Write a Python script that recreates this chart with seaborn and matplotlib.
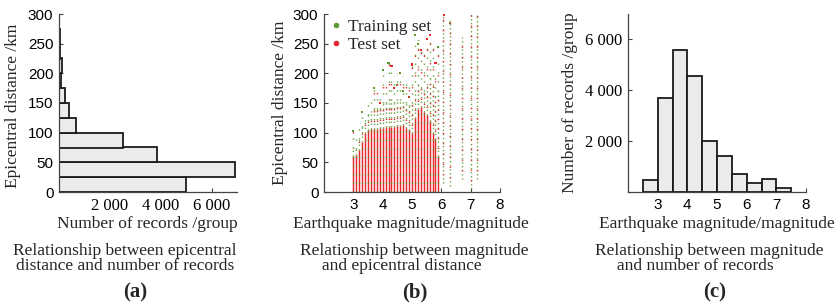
import numpy as np
import pandas as pd
import seaborn as sns
import matplotlib.pyplot as plt
from matplotlib.lines import Line2D

# (a) records per epicentral-distance group (25 km bins)
dist_edges = [0, 25, 50, 75, 100, 125, 150, 175, 200, 225, 250, 275, 300]
dist_counts = [5000, 6930, 3870, 2510, 680, 380, 220, 90, 110, 45, 25, 15]
dist_xticks = [2000, 4000, 6000]
dist_xticklabels = ['2 000', '4 000', '6 000']
dist_yticks = [0, 50, 100, 150, 200, 250, 300]

# (c) records per magnitude group (0.5 bins)
mag_edges = [2.5, 3.0, 3.5, 4.0, 4.5, 5.0, 5.5, 6.0, 6.5, 7.0, 7.5]
mag_counts = [470, 3710, 5600, 4550, 2000, 1410, 706, 365, 500, 145]
mag_yticks = [2000, 4000, 6000]
mag_yticklabels = ['2 000', '4 000', '6 000']
mag_xticks = [3, 4, 5, 6, 7, 8]

# (b) magnitude vs distance: dense columns
col_mag = [3.0, 3.1, 3.2, 3.3, 3.4, 3.5, 3.6, 3.7, 3.8, 3.9,
           4.0, 4.1, 4.2, 4.3, 4.4, 4.5, 4.6, 4.7, 4.8, 4.9,
           5.0, 5.1, 5.2, 5.3, 5.4, 5.5, 5.6, 5.7, 5.8, 5.9]
col_core = [60, 62, 70, 85, 100, 104, 106, 106, 107, 108,
            108, 109, 110, 110, 109, 112, 112, 113, 108, 105,
            100, 125, 140, 143, 135, 130, 120, 100, 90, 60]
col_mid = [75, 72, 90, 110, 120, 130, 135, 140, 140, 140,
           150, 150, 155, 155, 150, 155, 155, 150, 150, 145,
           150, 170, 180, 175, 170, 180, 190, 180, 160, 170]
col_top = [103, 95, 112, 135, 130, 150, 155, 175, 168, 165,
           205, 180, 218, 212, 195, 200, 200, 195, 190, 185,
           215, 250, 268, 240, 232, 245, 262, 245, 205, 242]
# sparse columns of the large events
far_mag = [6.05, 6.3, 6.7, 7.0, 7.2]
far_lo = [15, 10, 22, 5, 22]
far_hi = [300, 290, 262, 300, 300]
# scattered single records
pt_mag = [3.0, 3.3, 3.7, 4.0, 4.2, 4.3, 4.4, 4.6, 4.7, 5.0, 5.1, 5.2,
          5.3, 5.5, 5.6, 5.8, 5.9, 6.3, 6.1, 4.9, 4.5, 3.9]
pt_dist = [103, 135, 175, 205, 218, 212, 175, 200, 170, 215, 265, 250,
           240, 258, 265, 218, 245, 285, 298, 160, 180, 150]
pt_set = ['Training set', 'Training set', 'Training set', 'Training set',
          'Training set', 'Test set', 'Test set', 'Training set',
          'Training set', 'Test set', 'Training set', 'Training set',
          'Test set', 'Test set', 'Test set', 'Test set', 'Training set',
          'Training set', 'Test set', 'Test set', 'Training set', 'Test set']

green = '#5f9a30'
red = '#e8262e'
bar_fill = '#ebebeb'
edge = '#1a1a1a'

sns.set_theme(style='ticks')
plt.rcParams['font.family'] = ['Liberation Serif', 'DejaVu Serif']
plt.rcParams['lines.scale_dashes'] = False

W, H = 839, 304
fig = plt.figure(figsize=(W / 100, H / 100), dpi=100)


def box(x0, x1, y0, y1):
    return [x0 / W, 1 - y1 / H, (x1 - x0) / W, (y1 - y0) / H]


ax_a = fig.add_axes(box(59, 237, 14, 192))
ax_b = fig.add_axes(box(324, 500, 14, 192))
ax_c = fig.add_axes(box(628, 806, 14, 192))

sans = 'Liberation Sans'
serif = 'Liberation Serif'

# ---- (a)
dist_centers = (np.array(dist_edges[:-1]) + np.array(dist_edges[1:])) / 2
sns.histplot(y=dist_centers, weights=dist_counts, bins=dist_edges, ax=ax_a,
             color=bar_fill, edgecolor=edge, linewidth=1.3, alpha=1)
ax_a.set_xlim(0, 7000)
ax_a.set_ylim(0, 300)
ax_a.set_xticks(dist_xticks)
ax_a.set_xticklabels(dist_xticklabels, fontfamily=serif, fontsize=12)
ax_a.set_yticks(dist_yticks)
ax_a.set_yticklabels([str(v) for v in dist_yticks], fontfamily=sans, fontsize=11)

# ---- (b)
ax_b.vlines(col_mag, 0, col_core, color=red, linewidth=1.05)
ax_b.vlines(col_mag, 0, col_core, color=green, linewidth=1.05,
            linestyles=[(0, (0.7, 5.5))])
ax_b.vlines(col_mag, col_core, col_mid, color=green, linewidth=1.0,
            linestyles=[(0, (0.9, 2.4))])
ax_b.vlines(col_mag, col_core, col_mid, color=red, linewidth=1.0,
            linestyles=[(1.5, (0.9, 6))])
ax_b.vlines(col_mag, col_mid, col_top, color=green, linewidth=1.0,
            linestyles=[(0, (0.9, 5.5))])
ax_b.vlines(col_mag, col_mid, col_top, color=red, linewidth=1.0,
            linestyles=[(3, (0.9, 13))])
ax_b.vlines(far_mag, far_lo, far_hi, color=green, linewidth=1.0,
            linestyles=[(0, (0.9, 2.0))])
ax_b.vlines(far_mag, far_lo, far_hi, color=red, linewidth=1.0,
            linestyles=[(1.4, (0.9, 6.5))])
pts = pd.DataFrame({'mag': pt_mag, 'dist': pt_dist, 'set': pt_set})
sns.scatterplot(data=pts, x='mag', y='dist', hue='set',
                palette={'Training set': green, 'Test set': red},
                marker='s', s=2.5, linewidth=0, legend=False, ax=ax_b)
ax_b.set_xlim(2, 8)
ax_b.set_ylim(0, 300)
ax_b.set_xticks(mag_xticks)
ax_b.set_xticklabels([str(v) for v in mag_xticks], fontfamily=sans, fontsize=11)
ax_b.set_yticks(dist_yticks)
ax_b.set_yticklabels([str(v) for v in dist_yticks], fontfamily=sans, fontsize=11)
handles = [Line2D([], [], ls='', marker='o', markersize=4, color=green, markeredgewidth=0),
           Line2D([], [], ls='', marker='o', markersize=4, color=red, markeredgewidth=0)]
ax_b.legend(handles, ['Training set', 'Test set'], loc='upper left',
            bbox_to_anchor=(0.04, 0.975), frameon=False, borderaxespad=0,
            borderpad=0, handlelength=0.6, handletextpad=0.35,
            labelspacing=0.15, prop={'family': serif, 'size': 12.5})

# ---- (c)
mag_centers = (np.array(mag_edges[:-1]) + np.array(mag_edges[1:])) / 2
sns.histplot(x=mag_centers, weights=mag_counts, bins=mag_edges, ax=ax_c,
             color=bar_fill, edgecolor=edge, linewidth=1.3, alpha=1)
ax_c.set_xlim(2, 8)
ax_c.set_ylim(0, 7000)
ax_c.set_xticks(mag_xticks)
ax_c.set_xticklabels([str(v) for v in mag_xticks], fontfamily=sans, fontsize=11)
ax_c.set_yticks(mag_yticks)
ax_c.set_yticklabels(mag_yticklabels, fontfamily=serif, fontsize=12)

for ax in (ax_a, ax_b, ax_c):
    ax.set_xlabel('')
    ax.set_ylabel('')
    sns.despine(ax=ax)
    for s in ('left', 'bottom'):
        ax.spines[s].set_linewidth(0.9)
        ax.spines[s].set_color('#444444')
    ax.tick_params(direction='in', length=3, width=0.8, color='#444444',
                   labelcolor='black', pad=4)

# ---- texts
def put(x, y, s, **kw):
    fig.text(x / W, 1 - y / H, s, fontfamily=serif, **kw)


put(13, 106, 'Epicentral distance /km', fontsize=12.5, rotation=90, ha='center', va='center')
put(280, 103, 'Epicentral distance /km', fontsize=12.5, rotation=90, ha='center', va='center')
put(570, 103, 'Number of records /group', fontsize=12.5, rotation=90, ha='center', va='center')

put(147, 228, 'Number of records /group', fontsize=12.5, ha='center', va='baseline')
put(411, 228, 'Earthquake magnitude/magnitude', fontsize=12.5, ha='center', va='baseline')
put(717, 228, 'Earthquake magnitude/magnitude', fontsize=12.5, ha='center', va='baseline')

cap_kw = dict(fontsize=12.5, va='top', linespacing=0.92)
put(125, 243, 'Relationship between epicentral\ndistance and number of records',
    ha='center', multialignment='center', **cap_kw)
put(300, 243, 'Relationship between magnitude\n     and epicentral distance',
    ha='left', multialignment='left', **cap_kw)
put(595, 243, 'Relationship between magnitude\n     and number of records',
    ha='left', multialignment='left', **cap_kw)

put(135, 297, '(a)', fontsize=15, fontweight='bold', ha='center', va='baseline')
put(415, 297, '(b)', fontsize=15, fontweight='bold', ha='center', va='baseline')
put(715, 297, '(c)', fontsize=15, fontweight='bold', ha='center', va='baseline')

fig.savefig('out.png', dpi=100, facecolor='white')
